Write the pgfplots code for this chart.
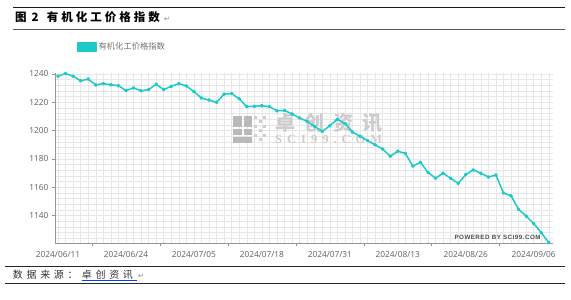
\documentclass[border=0pt]{standalone}
\usepackage{pgfplots}
\pgfplotsset{compat=1.18}
\usepackage{fontspec}
\setmainfont{Open Sans}
\newfontfamily\cjk{Noto Sans CJK SC}
\newfontfamily\cjktitle{Noto Sans CJK SC}[LetterSpace=26]
\newfontfamily\cjkfoot{Noto Sans CJK SC}[LetterSpace=37]
\newfontfamily\cjkwm{Noto Sans CJK SC}[LetterSpace=45]
\newfontfamily\wmserif{Liberation Serif}[LetterSpace=40]
\newfontfamily\pwd{Liberation Sans}[LetterSpace=8]
\newfontfamily\djv{DejaVu Sans}
\definecolor{tcol}{RGB}{28,202,200}
\definecolor{tmark}{RGB}{160,232,230}
\definecolor{gridc}{RGB}{231,231,231}
\definecolor{axc}{RGB}{150,150,150}
\definecolor{labc}{RGB}{95,95,95}
\definecolor{wm}{RGB}{205,205,205}
\definecolor{wmlogo}{RGB}{185,185,185}
\begin{document}
\begin{tikzpicture}[x=1bp,y=1bp]
\path[use as bounding box] (0,0) rectangle (571,299);
% header rules and title
\draw[line width=1.4bp, black!90] (13,291.7) -- (565,291.7);
\draw[line width=0.9bp, black!65] (13,269.7) -- (565,269.7);
\node[anchor=base west, inner sep=0] at (15,277.1) {\cjk\bfseries\fontsize{11.5bp}{13bp}\selectfont 图};
\node[anchor=base west, inner sep=0] at (31.5,277.1) {\cjk\bfseries\fontsize{11.5bp}{13bp}\selectfont 2};
\node[anchor=base west, inner sep=0] at (46.7,277.1) {\cjktitle\bfseries\fontsize{11.5bp}{13bp}\selectfont 有机化工价格指数};
\node[anchor=base west, inner sep=0, text=gray] at (164,277.1) {\djv\fontsize{7bp}{8bp}\selectfont ↵};

\begin{axis}[
  at={(55bp,55.7bp)}, anchor=south west,
  scale only axis, width=498bp, height=170bp,
  xmin=-0.4, xmax=65.56, ymin=1120.5, ymax=1240.5,
  axis x line*=bottom, axis y line*=left,
  axis line style={draw=axc, line width=0.9bp},
  xtick={0,9,...,63},
  xticklabels={2024/06/11,2024/06/24,2024/07/05,2024/07/18,2024/07/31,2024/08/13,2024/08/26,2024/09/06},
  ytick={1140,1160,...,1240},
  minor xtick={0,...,65},
  minor ytick={1124,1128,...,1240},
  grid=both,
  major grid style={draw=gridc, line width=0.5bp},
  minor grid style={draw=gridc, line width=0.5bp},
  tick align=outside,
  major tick length=3bp, minor tick length=0pt,
  xtick style={draw=none},
  ytick style={draw=axc, line width=0.6bp},
  extra x ticks={4.5,13.5,22.5,31.5,40.5,49.5,58.5},
  extra x tick labels={},
  extra x tick style={grid=none, xtick style={draw=axc, line width=0.6bp}},
  tick label style={font=\fontsize{8.3bp}{10bp}\selectfont, text=labc},
  yticklabel style={/pgf/number format/1000 sep={}, /pgf/number format/assume math mode=true},
  x tick label style={anchor=base, yshift=-11.4bp},
  legend style={at={(axis description cs:0.044,1.155)}, anchor=west, draw=none, fill=none,
    inner sep=0pt, font=\cjk\fontsize{8.3bp}{10bp}\selectfont, text=black!55,
    legend cell align=left},
  legend image code/.code={\fill[tcol] (0bp,-4.35bp) rectangle (18bp,4.35bp);},
]
\node[anchor=west, inner sep=0, text=wm] at (rel axis cs:0.4418,0.706) {\cjkwm\bfseries\fontsize{20bp}{22bp}\selectfont 卓创资讯};
\node[anchor=west, inner sep=0, text=wm] at (rel axis cs:0.4418,0.6106) {\wmserif\bfseries\fontsize{12.5bp}{14bp}\selectfont SCI99.COM};
\node[anchor=center, inner sep=0, text=black!70] at (rel axis cs:0.8886,0.037) {\pwd\bfseries\fontsize{6.2bp}{7bp}\selectfont POWERED BY SCI99.COM};
\addplot[tcol, line width=1.5bp, line join=round, mark=*, mark size=1.1bp, mark options={fill=tmark, draw=none}] table[x=i, y=v] {
i v
0 1238.5
1 1240.3
2 1238.5
3 1235.2
4 1236.4
5 1232.3
6 1233.2
7 1232.4
8 1231.8
9 1228.3
10 1230.2
11 1228.1
12 1229.0
13 1232.8
14 1229.0
15 1231.3
16 1233.2
17 1231.6
18 1227.6
19 1223.0
20 1221.6
21 1220.0
22 1225.8
23 1226.2
24 1222.5
25 1217.0
26 1217.2
27 1217.6
28 1217.0
29 1214.0
30 1214.3
31 1211.8
32 1209.0
33 1206.5
34 1203.0
35 1199.5
36 1203.5
37 1208.0
38 1205.0
39 1199.0
40 1196.0
41 1193.0
42 1190.0
43 1187.0
44 1182.0
45 1185.5
46 1184.0
47 1175.0
48 1177.7
49 1170.5
50 1166.5
51 1170.0
52 1166.4
53 1162.8
54 1169.0
55 1172.3
56 1170.0
57 1167.3
58 1168.7
59 1156.0
60 1154.0
61 1144.5
62 1139.7
63 1134.5
64 1128.0
65 1121.0
};
\addlegendentry{有机化工价格指数}
\end{axis}

% watermark logo
\fill[wmlogo] (233,183) rectangle (242,172);
\fill[wmlogo] (243.5,183) rectangle (252,172);
\fill[wmlogo] (233,170.5) rectangle (242,164);
\fill[wmlogo] (243.5,170.5) rectangle (252,164);
\fill[wmlogo] (233,162.5) rectangle (252,156);
\fill[wmlogo!70] (254,183) rectangle (257,180);
\fill[wmlogo!70] (258.5,179) rectangle (261.5,176);
\fill[wmlogo!70] (263,183) rectangle (266,180);
\fill[wmlogo!70] (254,174.5) rectangle (257,171.5);
\fill[wmlogo!70] (263,174.5) rectangle (266,171.5);
\fill[wmlogo!70] (258.5,170) rectangle (261.5,167);
\fill[wmlogo!70] (254,165.5) rectangle (257,162.5);
\fill[wmlogo!70] (263,165.5) rectangle (266,162.5);
\fill[wmlogo!70] (258.5,161) rectangle (261.5,158);

% footer
\draw[line width=1bp, black!85] (5,32.5) -- (565,32.5);
\node[anchor=base west, inner sep=0, text=black!80] at (12.7,20.2) {\cjkfoot\fontsize{10bp}{12bp}\selectfont 数据来源：};
\node[anchor=base west, inner sep=0, text=black!80] at (81.7,20.2) {\cjkfoot\fontsize{10bp}{12bp}\selectfont 卓创资讯};
\draw[line width=0.8bp, blue!75!cyan] (81.7,18.8) -- (136.7,18.8);
\node[anchor=base west, inner sep=0, text=gray] at (138,20.2) {\djv\fontsize{7bp}{8bp}\selectfont ↵};
\draw[line width=0.8bp, black!85] (5,15.5) -- (565,15.5);
\end{tikzpicture}
\end{document}
